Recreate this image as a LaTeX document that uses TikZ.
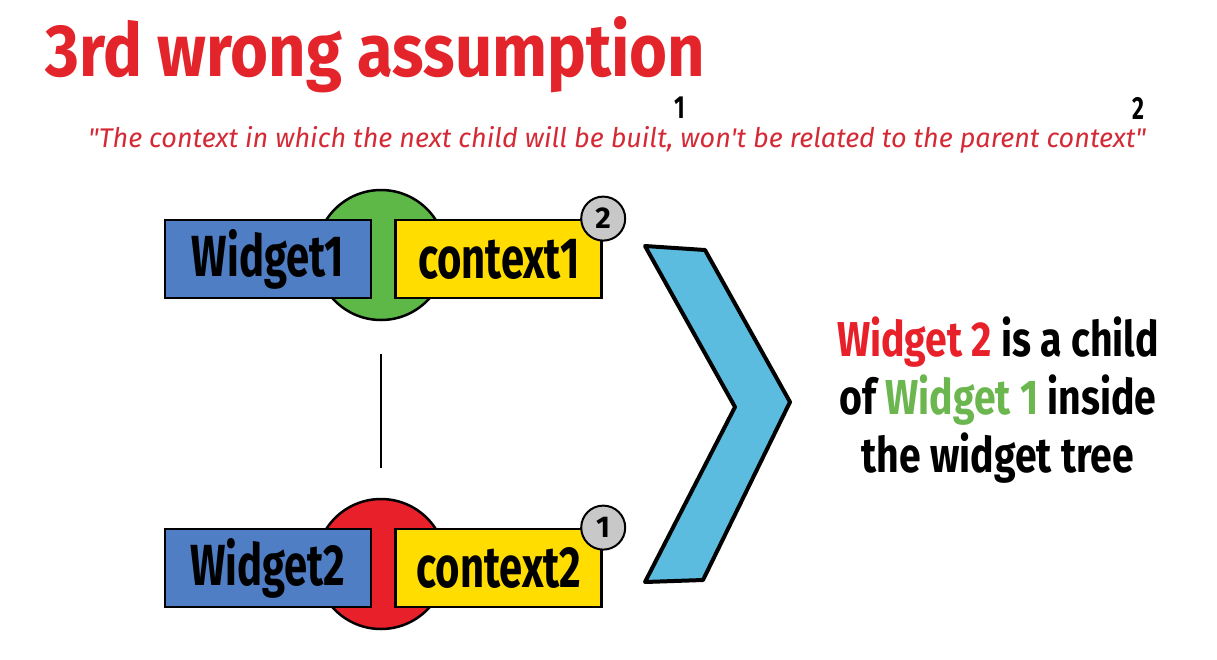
\documentclass[tikz,border=0pt]{standalone}
\usepackage{fontspec}
\setmainfont{Fira Sans}
\newfontfamily\titlefont[FakeStretch=0.88]{Fira Sans}
\newfontfamily\boxfont[FakeStretch=0.72]{Fira Sans}
\newfontfamily\notefont[FakeStretch=0.8]{Fira Sans}
\usetikzlibrary{positioning}

\definecolor{titlered}{HTML}{E3242B}
\definecolor{quotered}{HTML}{D42A35}
\definecolor{widgetblue}{HTML}{4F7EC4}
\definecolor{ctxyellow}{HTML}{FFDD00}
\definecolor{ringgreen}{HTML}{5DB848}
\definecolor{ringred}{HTML}{E8202A}
\definecolor{badgegray}{HTML}{C8C8C8}
\definecolor{arrowblue}{HTML}{5BBCE0}
\definecolor{notegreen}{HTML}{6BB64E}

\begin{document}
\begin{tikzpicture}[
    x=1pt, y=-1pt,
    >=stealth,
    ring/.style={circle, draw=black, line width=2.5pt, minimum size=130pt, inner sep=0pt},
    wbox/.style={draw=black, line width=2.8pt, fill=widgetblue, minimum width=206pt,
        minimum height=78pt, inner sep=0pt, font=\boxfont\bfseries\fontsize{58}{58}\selectfont},
    cbox/.style={wbox, fill=ctxyellow},
    badge/.style={circle, draw=black, line width=2pt, fill=badgegray, minimum size=44pt,
        inner sep=0pt, font=\bfseries\fontsize{30}{30}\selectfont},
    numtag/.style={inner sep=0pt, font=\boxfont\bfseries\fontsize{32}{32}\selectfont},
]

\useasboundingbox (0,0) rectangle (1217,659);

% === Title and quote ===
\node[anchor=base west, inner sep=0pt, text=titlered, font=\titlefont\bfseries\fontsize{74}{74}\selectfont]
    (title) at (45,76) {3rd wrong assumption};
\node[anchor=base west, inner sep=0pt, text=quotered, font=\itshape\fontsize{27}{27}\selectfont]
    (quote) at (88,147) {\textquotedbl The context in which the next child will be built, won\textquotesingle t be related to the parent context\textquotedbl};
\node[numtag] (m1) at (680,108) {1};
\node[numtag] (m2) at (1138,108) {2};

% === Widget / context pairs ===
\foreach \i/\y/\col/\n in {1/259/ringgreen/2, 2/568/ringred/1} {
    \node[ring, fill=\col] (r\i) at (381,\y-4) {};
    \node[wbox] (w\i) at (268,\y) {Widget\i};
    \node[cbox, right=22pt of w\i] (c\i) {context\i};
    \node[badge] (b\i) at (c\i.north east) {\n};
}

% link between the two widgets
\draw[line width=2pt, shorten <=33pt, shorten >=30pt] (r1.south) -- (r2.north);

% === Chevron ===
\draw[fill=arrowblue, line width=4pt, line join=round]
    (645,246) -- (705,250) -- (790,402) -- (703,580) -- (645,582) -- (735,407) -- cycle;

% === Conclusion ===
\node[align=center, font=\notefont\bfseries\fontsize{49}{58}\selectfont] (note) at (998,400)
    {{\color{ringred}Widget 2} is a child\\
     of {\color{notegreen}Widget 1} inside\\
     the widget tree};

\end{tikzpicture}
\end{document}
